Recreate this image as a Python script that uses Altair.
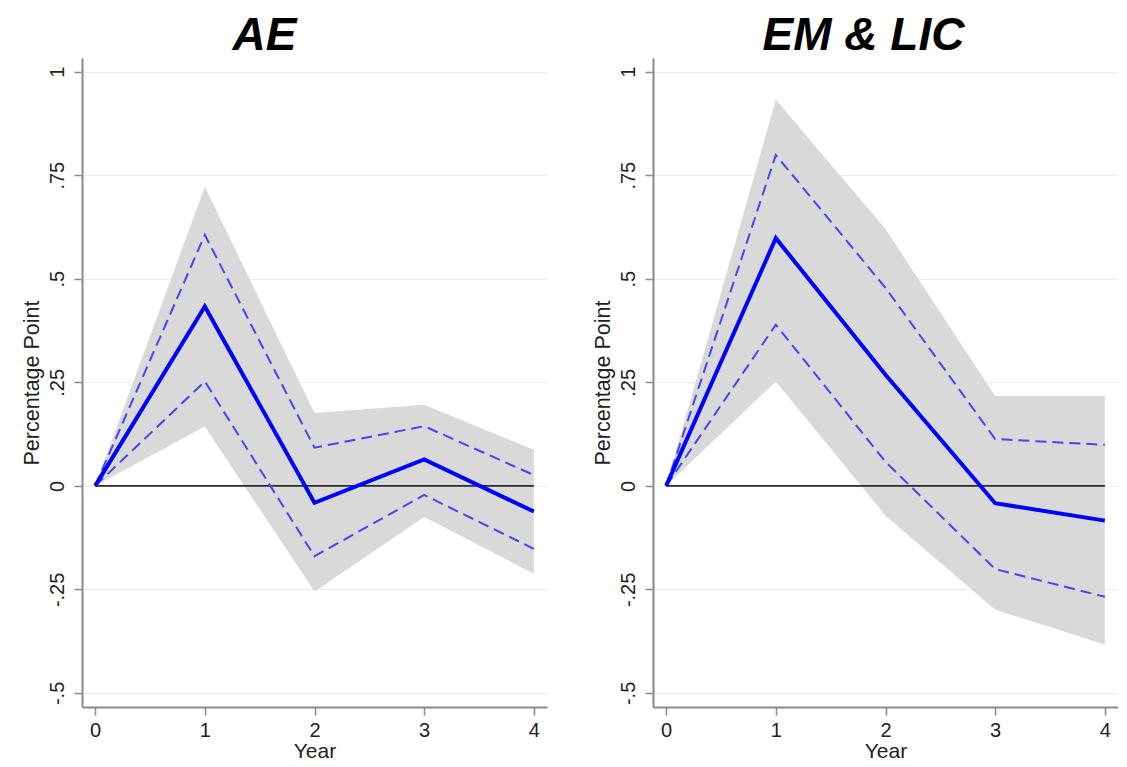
import altair as alt
import pandas as pd

years = [0, 1, 2, 3, 4]

ae_est = [0, 0.433, -0.041, 0.064, -0.062]
ae_lo68 = [0, 0.252, -0.170, -0.022, -0.152]
ae_hi68 = [0, 0.606, 0.092, 0.144, 0.026]
ae_lo90 = [0, 0.143, -0.255, -0.075, -0.212]
ae_hi90 = [0, 0.722, 0.176, 0.196, 0.087]

em_est = [0, 0.598, 0.268, -0.042, -0.084]
em_lo68 = [0, 0.389, 0.058, -0.201, -0.268]
em_hi68 = [0, 0.799, 0.478, 0.113, 0.099]
em_lo90 = [0, 0.252, -0.072, -0.299, -0.383]
em_hi90 = [0, 0.932, 0.620, 0.217, 0.217]

y_ticks = [-0.5, -0.25, 0, 0.25, 0.5, 0.75, 1]
y_tick_labels = ["-.5", "-.25", "0", ".25", ".5", ".75", "1"]
x_ticks = [0, 1, 2, 3, 4]

titles = ["AE", "EM & LIC"]

label_expr = " : ".join(
    f"abs(datum.value - ({v})) < 0.001 ? '{l}'" for v, l in zip(y_ticks, y_tick_labels)
) + " : ''"

W, H = 465, 649
xscale = alt.Scale(domain=[-0.12, 4.12], nice=False, zero=False)
yscale = alt.Scale(domain=[-0.534, 1.033], nice=False, zero=False)

AX_COLOR = "#8a8a8a"
LBL_COLOR = "#222222"

x_axis = alt.Axis(values=x_ticks, title="Year", grid=False, labelAngle=0,
                  format="d", labelFontSize=20, titleFontSize=21,
                  labelPadding=5, titlePadding=0, tickSize=8,
                  titleFontWeight="normal")
y_axis = alt.Axis(values=y_ticks, labelExpr=label_expr, title="Percentage Point",
                  grid=True, labelAngle=270, labelAlign="center",
                  labelBaseline="bottom", labelFontSize=20, titleFontSize=21.5,
                  labelPadding=7, titlePadding=4, tickSize=8,
                  titleFontWeight="normal")


def panel(title, est, lo68, hi68, lo90, hi90, dx):
    df = pd.DataFrame({"year": years, "est": est, "lo68": lo68, "hi68": hi68,
                       "lo90": lo90, "hi90": hi90})
    zero = pd.DataFrame({"year": [min(years)], "x2": [max(years)], "v": [0]})
    base = alt.Chart(df)
    X = alt.X("year:Q", scale=xscale, axis=x_axis, title="Year")
    band = base.mark_area(color="#d9d9d9", opacity=1).encode(
        x=X,
        y=alt.Y("lo90:Q", scale=yscale, axis=y_axis, title="Percentage Point"),
        y2="hi90:Q",
    )
    zline = alt.Chart(zero).mark_rule(color="#2a2a2a", strokeWidth=1.6).encode(
        x=X,
        x2="x2:Q",
        y=alt.Y("v:Q", scale=yscale, axis=y_axis, title="Percentage Point"),
    )
    hi = base.mark_line(color="#4545f2", strokeWidth=2, strokeDash=[11, 6]).encode(
        x=X,
        y=alt.Y("hi68:Q", scale=yscale, axis=y_axis, title="Percentage Point"),
    )
    lo = base.mark_line(color="#4545f2", strokeWidth=2, strokeDash=[11, 6]).encode(
        x=X,
        y=alt.Y("lo68:Q", scale=yscale, axis=y_axis, title="Percentage Point"),
    )
    mid = base.mark_line(color="#0000ff", strokeWidth=4).encode(
        x=X,
        y=alt.Y("est:Q", scale=yscale, axis=y_axis, title="Percentage Point"),
    )
    return alt.layer(band, zline, hi, lo, mid).properties(
        width=W, height=H,
        title=alt.TitleParams(title, font="Liberation Sans", fontSize=46,
                              fontStyle="italic", fontWeight="bold",
                              anchor="middle", frame="group",
                              dx=dx, dy=1.5, offset=0, color="#000000"),
    )


left = panel(titles[0], ae_est, ae_lo68, ae_hi68, ae_lo90, ae_hi90, -50)
right = panel(titles[1], em_est, em_lo68, em_hi68, em_lo90, em_hi90, -22)

chart = alt.hconcat(left, right, spacing=44).properties(
    padding={"left": 12, "top": 4, "right": 0, "bottom": 0}
).configure_view(stroke=None).configure_axis(
    domainColor=AX_COLOR, domainWidth=2, tickColor=AX_COLOR, tickWidth=1.5,
    gridColor="#e6efef", gridWidth=1, labelColor=LBL_COLOR, titleColor=LBL_COLOR,
    labelFont="Liberation Sans", titleFont="Liberation Sans",
).configure_title(font="Liberation Sans")

chart.save("out.html", embed_options={"renderer": "svg", "actions": False})
